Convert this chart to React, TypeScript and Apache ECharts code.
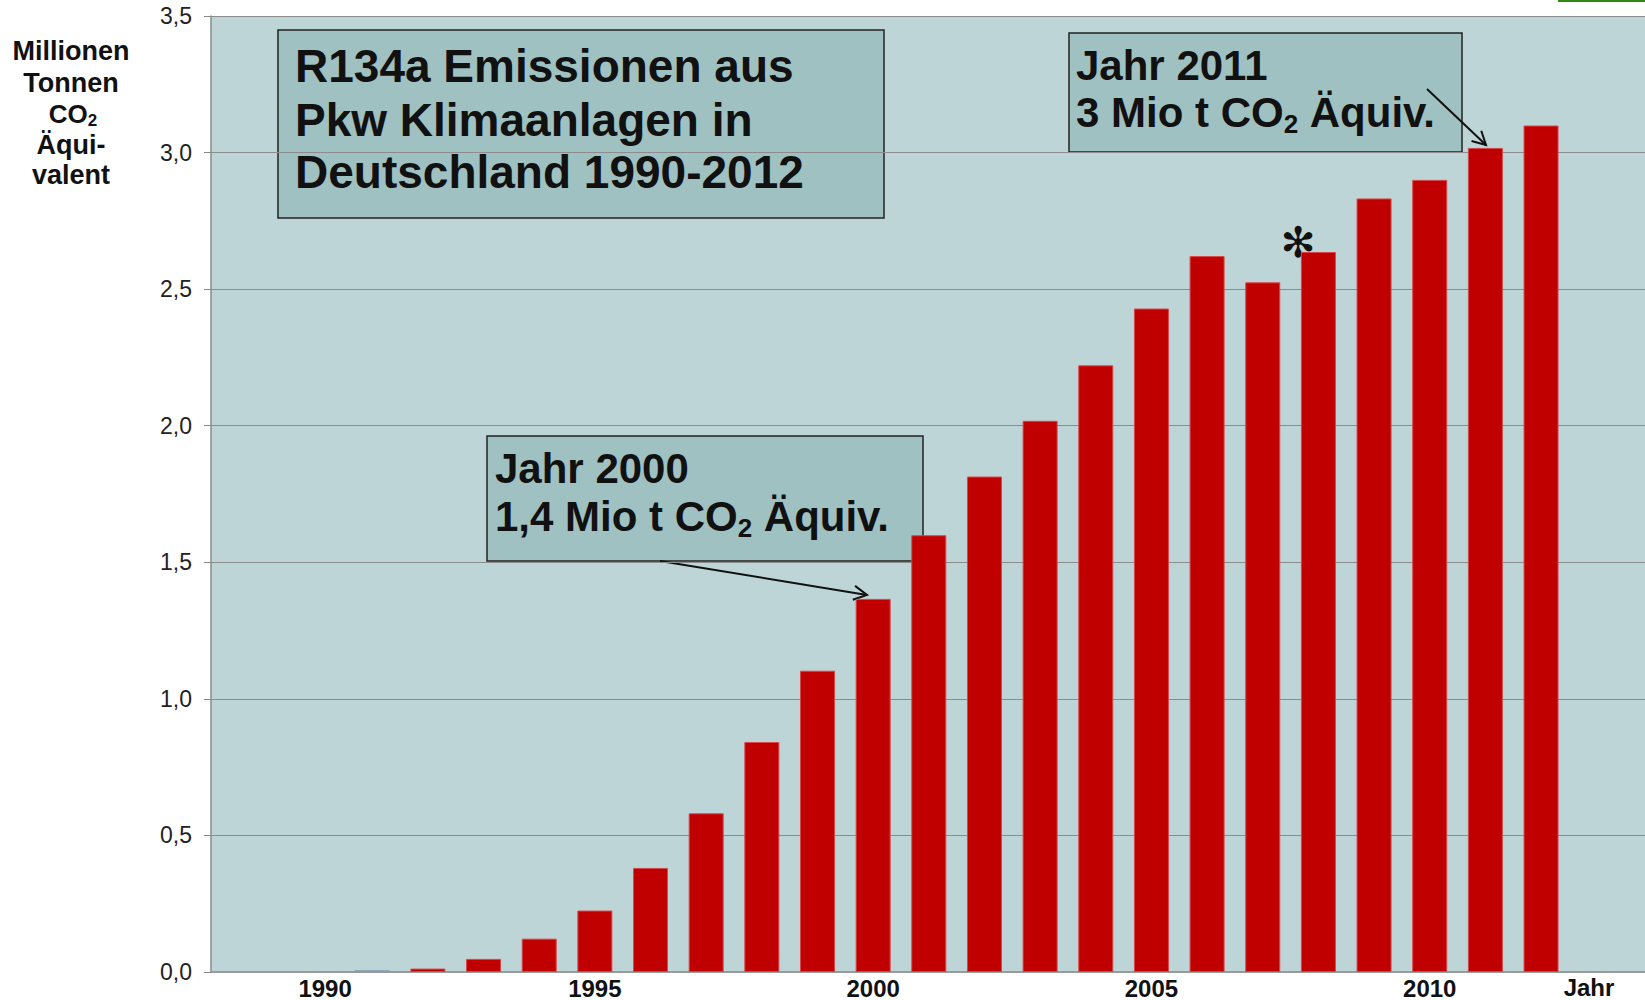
import React, { useEffect, useRef } from "react";
import * as echarts from "echarts";

const years = [1990, 1991, 1992, 1993, 1994, 1995, 1996, 1997, 1998, 1999, 2000, 2001, 2002, 2003, 2004, 2005, 2006, 2007, 2008, 2009, 2010, 2011, 2012];
const emissions = [0, 0.006, 0.0125, 0.048, 0.122, 0.225, 0.381, 0.581, 0.842, 1.103, 1.366, 1.599, 1.814, 2.018, 2.221, 2.429, 2.621, 2.525, 2.636, 2.832, 2.9, 3.017, 3.099];
const xTickYears = [1990, 1995, 2000, 2005, 2010];
const yAxisNameLines = ["Millionen", "Tonnen", "CO2", "Äqui-", "valent"];
const titleLines = ["R134a Emissionen aus", "Pkw Klimaanlagen in", "Deutschland 1990-2012"];

const FONT = "'Liberation Sans', Arial, sans-serif";

function arrow(x1: number, y1: number, x2: number, y2: number) {
  const ang = Math.atan2(y2 - y1, x2 - x1);
  const L = 15;
  const a = (28 * Math.PI) / 180;
  const p1 = [x2 - L * Math.cos(ang - a), y2 - L * Math.sin(ang - a)];
  const p2 = [x2 - L * Math.cos(ang + a), y2 - L * Math.sin(ang + a)];
  return [
    { type: "line", shape: { x1, y1, x2, y2 }, style: { stroke: "#111", lineWidth: 2 } },
    { type: "polyline", shape: { points: [p1, [x2, y2], p2] }, style: { stroke: "#111", lineWidth: 2, fill: null } },
  ];
}

function richLine(x: number, y: number, pre: string, post: string, size: number) {
  return {
    type: "text",
    x,
    y,
    style: {
      text: `{a|${pre}}{s|2}{a|${post}}`,
      textVerticalAlign: "middle",
      rich: {
        a: { fontSize: size, fontWeight: "bold", fontFamily: FONT, fill: "#111" },
        s: { fontSize: Math.round(size * 0.62), fontWeight: "bold", fontFamily: FONT, fill: "#111", padding: [Math.round(size * 0.55), 0, 0, 0] },
      },
    },
  };
}

function plainText(x: number, y: number, text: string, size: number, align = "left", weight = "bold") {
  return {
    type: "text",
    x,
    y,
    style: { text, fontSize: size, fontWeight: weight, fontFamily: FONT, fill: "#111", textAlign: align, textVerticalAlign: "middle" },
  };
}

export default function App() {
  const ref = useRef<HTMLDivElement>(null);
  useEffect(() => {
    if (!ref.current) return;
    const chart = echarts.init(ref.current, null, { renderer: "svg" });
    const boxFill = "#a0c1c1";
    const yNameYs = [51, 83, 114, 145, 175];
    const graphic: any[] = [
      { type: "line", shape: { x1: 1558, y1: 1, x2: 1645, y2: 1 }, style: { stroke: "#2f8a12", lineWidth: 2 } },
      // title box
      { type: "rect", shape: { x: 278, y: 30, width: 606, height: 188 }, style: { fill: boxFill, stroke: "#222", lineWidth: 1.5 } },
      ...titleLines.map((t, i) => plainText(295, [66, 120, 172][i], t, 46)),
      // 2011 box
      { type: "rect", shape: { x: 1069, y: 33, width: 393, height: 119 }, style: { fill: boxFill, stroke: "#222", lineWidth: 1.5 } },
      plainText(1076, 65, "Jahr 2011", 42),
      richLine(1076, 112, "3 Mio t CO", " Äquiv.", 42),
      // 2000 box
      { type: "rect", shape: { x: 487, y: 436, width: 436, height: 125 }, style: { fill: boxFill, stroke: "#222", lineWidth: 1.5 } },
      plainText(495, 468, "Jahr 2000", 42),
      richLine(495, 516, "1,4 Mio t CO", " Äquiv.", 42),
      ...arrow(660, 561, 867, 595),
      ...arrow(1427, 89, 1486, 145),
      // asterisk
      {
        type: "text",
        x: 1298,
        y: 242,
        style: { text: "✻", fontSize: 42, fontFamily: "'DejaVu Sans', sans-serif", fill: "#111", textAlign: "center", textVerticalAlign: "middle" },
      },
      plainText(1589, 987, "Jahr", 24, "center"),
      ...yAxisNameLines.map((t, i) =>
        t === "CO2"
          ? {
              type: "text",
              x: 73,
              y: yNameYs[i],
              style: {
                text: "{a|CO}{s|2}",
                textAlign: "center",
                textVerticalAlign: "middle",
                rich: {
                  a: { fontSize: 26, fontWeight: "bold", fontFamily: FONT, fill: "#111" },
                  s: { fontSize: 17, fontWeight: "bold", fontFamily: FONT, fill: "#111", padding: [12, 0, 0, 0] },
                },
              },
            }
          : plainText(71, yNameYs[i], t, 27, "center")
      ),
    ];

    chart.setOption({
      animation: false,
      backgroundColor: "#ffffff",
      grid: { left: 211, right: 0, top: 16, bottom: 28, show: true, backgroundColor: "#bdd5d6", borderWidth: 0 },
      xAxis: {
        type: "value",
        min: 1988.103,
        max: 2013.868,
        splitLine: { show: false },
        axisTick: { show: false },
        axisLine: { show: true, lineStyle: { color: "#9a9a9a", width: 2 } },
        axisLabel: {
          customValues: xTickYears,
          formatter: (v: number) => (Math.round(v) === 1990 ? "{p|1990}" : String(Math.round(v))),
          rich: { p: { padding: [0, 0, 0, 17], fontSize: 24, fontWeight: "bold", fontFamily: FONT, color: "#111" } },
          fontSize: 24,
          fontWeight: "bold",
          fontFamily: FONT,
          color: "#111",
          margin: 4,
        },
      },
      yAxis: {
        type: "value",
        min: 0,
        max: 3.5,
        interval: 0.5,
        axisLine: { show: true, lineStyle: { color: "#8a8a8a", width: 1.5 } },
        axisTick: { show: true, length: 7, lineStyle: { color: "#8a8a8a" } },
        splitLine: { show: true, lineStyle: { color: "#8c8c8c", width: 1 } },
        axisLabel: {
          formatter: (v: number) => v.toFixed(1).replace(".", ","),
          fontSize: 23,
          fontFamily: FONT,
          color: "#222",
          margin: 19,
        },
      },
      series: [
        {
          type: "bar",
          barWidth: 35,
          data: years.map((y, i) =>
            y === 1991
              ? { value: [y, emissions[i]], itemStyle: { color: "#7f9cb4", borderWidth: 0 } }
              : emissions[i] === 0
              ? { value: [y, emissions[i]], itemStyle: { borderWidth: 0 } }
              : [y, emissions[i]]
          ),
          itemStyle: { color: "#c00000", borderColor: "#d8474a", borderWidth: 1 },
        },
      ],
      graphic,
    });
    return () => chart.dispose();
  }, []);
  return <div ref={ref} style={{ position: "fixed", left: 0, top: 0, width: 1645, height: 1000 }} />;
}
